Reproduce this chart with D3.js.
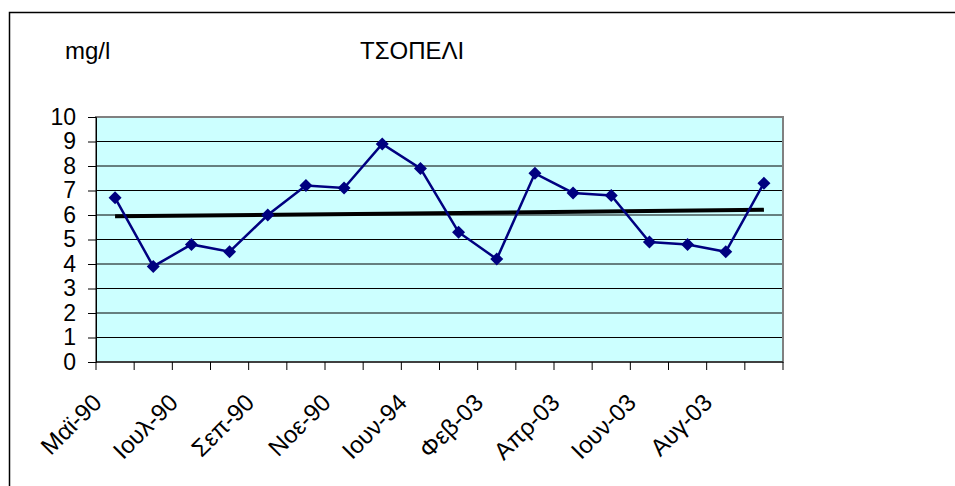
<!DOCTYPE html>
<html>
<head>
<meta charset="utf-8">
<script src="https://cdn.jsdelivr.net/npm/d3@7"></script>
<style>
  html, body { margin: 0; padding: 0; background: #fff; }
  svg { display: block; font-family: Arial, "Liberation Sans", sans-serif; }
</style>
</head>
<body>
<svg id="chart" width="955" height="486"></svg>
<script>
// Monthly samples, dissolved oxygen (mg/l) at ΤΣΟΠΕΛΙ
const categories = [
  "Μαϊ-90", "Ιουν-90", "Ιουλ-90", "Αυγ-90", "Σεπ-90", "Οκτ-90",
  "Νοε-90", "Δεκ-90", "Ιουν-94", "Ιαν-03", "Φεβ-03", "Μαρ-03",
  "Απρ-03", "Μαϊ-03", "Ιουν-03", "Ιουλ-03", "Αυγ-03", "Σεπ-03"
];
const values = [6.7, 3.9, 4.8, 4.5, 6.0, 7.2, 7.1, 8.9, 7.9, 5.3, 4.2, 7.7, 6.9, 6.8, 4.9, 4.8, 4.5, 7.3];
const yTicks = [0, 1, 2, 3, 4, 5, 6, 7, 8, 9, 10];
const chartTitle = "ΤΣΟΠΕΛΙ";
const unitLabel = "mg/l";

const svg = d3.select("#chart");

// outer frame
svg.append("rect")
  .attr("x", 9.5).attr("y", 12.5)
  .attr("width", 1000).attr("height", 1000)
  .attr("fill", "none").attr("stroke", "#000").attr("stroke-width", 1.5);

const plot = { left: 96, right: 783, top: 117, bottom: 362 };

const x = d3.scaleBand()
  .domain(categories)
  .range([plot.left, plot.right])
  .paddingInner(0).paddingOuter(0);
const cx = d => x(d) + x.bandwidth() / 2;

const y = d3.scaleLinear().domain([0, 10]).range([plot.bottom, plot.top]);

// plot background
svg.append("rect")
  .attr("x", plot.left).attr("y", plot.top)
  .attr("width", plot.right - plot.left).attr("height", plot.bottom - plot.top)
  .attr("fill", "#CCFFFF");

// horizontal gridlines
svg.append("g")
  .selectAll("line")
  .data(yTicks.filter(t => t > 0 && t < 10))
  .join("line")
  .attr("x1", plot.left).attr("x2", plot.right)
  .attr("y1", d => y(d)).attr("y2", d => y(d))
  .attr("stroke", "#000").attr("stroke-width", 1);

// plot border
svg.append("rect")
  .attr("x", plot.left).attr("y", plot.top)
  .attr("width", plot.right - plot.left).attr("height", plot.bottom - plot.top)
  .attr("fill", "none").attr("stroke", "#808080").attr("stroke-width", 2);

// y axis
const yAxis = d3.axisLeft(y).tickValues(yTicks).tickSize(8).tickPadding(12);
const gy = svg.append("g").attr("transform", `translate(${plot.left},0)`).call(yAxis);
gy.select(".domain").attr("stroke", "#000").attr("stroke-width", 1);
gy.selectAll(".tick line").attr("stroke", "#000");
gy.selectAll(".tick text")
  .attr("font-size", 23).attr("font-family", "Arial, 'Liberation Sans', sans-serif")
  .attr("fill", "#000");

// x axis: tick marks at category boundaries
const boundaries = categories.map(c => x(c)).concat([plot.right]);
svg.append("g")
  .selectAll("line")
  .data(boundaries)
  .join("line")
  .attr("x1", d => d).attr("x2", d => d)
  .attr("y1", plot.bottom).attr("y2", plot.bottom + 8)
  .attr("stroke", "#000").attr("stroke-width", 1);
svg.append("line")
  .attr("x1", plot.left).attr("x2", plot.right)
  .attr("y1", plot.bottom).attr("y2", plot.bottom)
  .attr("stroke", "#000").attr("stroke-width", 1);

// category labels (every second)
svg.append("g")
  .selectAll("text")
  .data(categories.filter((c, i) => i % 2 === 0))
  .join("text")
  .attr("transform", d => `translate(${cx(d) - 12},${plot.bottom + 42}) rotate(-45)`)
  .attr("text-anchor", "end")
  .attr("font-size", 24)
  .attr("fill", "#000")
  .text(d => d);

// linear trend (least squares on category index)
const n = values.length;
const idx = d3.range(n);
const mx = d3.mean(idx), my = d3.mean(values);
const slope = d3.sum(idx, i => (i - mx) * (values[i] - my)) / d3.sum(idx, i => (i - mx) ** 2);
const intercept = my - slope * mx;
svg.append("line")
  .attr("x1", cx(categories[0])).attr("y1", y(intercept))
  .attr("x2", cx(categories[n - 1])).attr("y2", y(intercept + slope * (n - 1)))
  .attr("stroke", "#000").attr("stroke-width", 4);

// data series
const line = d3.line().x((d, i) => cx(categories[i])).y(d => y(d));
svg.append("path")
  .datum(values)
  .attr("d", line)
  .attr("fill", "none").attr("stroke", "#000080").attr("stroke-width", 2.5);

const diamond = "M0,-6.5L6.5,0L0,6.5L-6.5,0Z";
svg.append("g")
  .selectAll("path")
  .data(values)
  .join("path")
  .attr("transform", (d, i) => `translate(${cx(categories[i])},${y(d)})`)
  .attr("d", diamond)
  .attr("fill", "#000080");

// titles
svg.append("text").attr("x", 65).attr("y", 59)
  .attr("font-size", 24).attr("fill", "#000").text(unitLabel);
svg.append("text").attr("x", 360).attr("y", 59)
  .attr("font-size", 24).attr("fill", "#000").text(chartTitle);
</script>
</body>
</html>
